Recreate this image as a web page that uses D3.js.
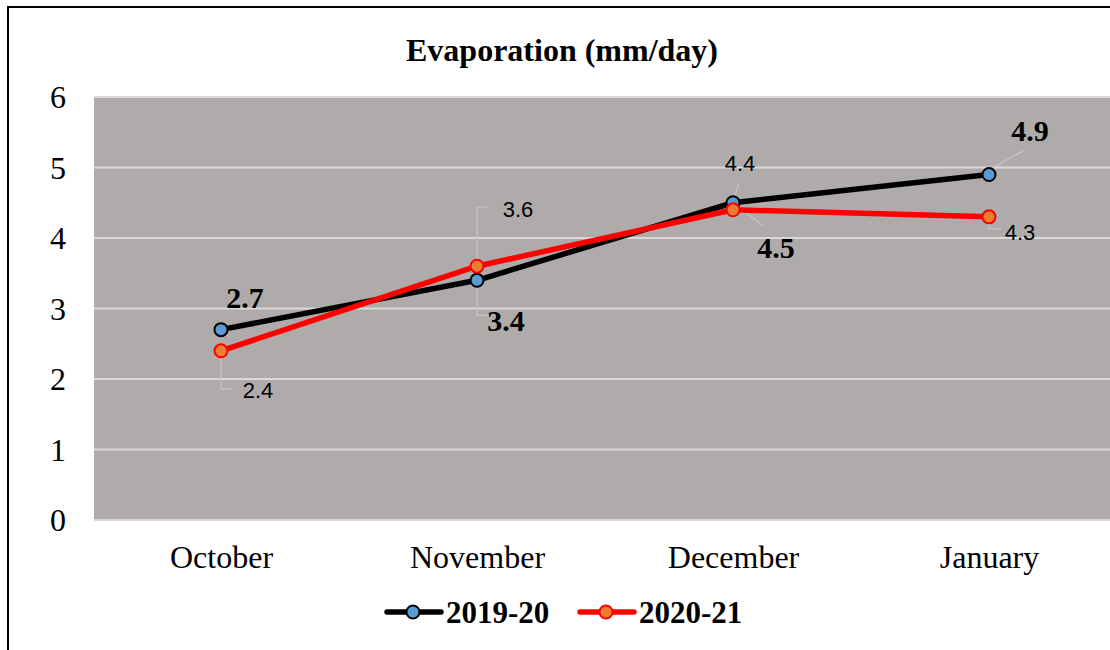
<!DOCTYPE html>
<html>
<head>
<meta charset="utf-8">
<script src="https://cdn.jsdelivr.net/npm/d3@7"></script>
<style>
  body { margin: 0; background: #fff; }
  svg text { fill: #000; }
</style>
</head>
<body>
<div class="chart"></div>
<script>
// Evaporation line chart
var months = ["October", "November", "December", "January"];
var evap1920 = [2.7, 3.4, 4.5, 4.9];
var evap2021 = [2.4, 3.6, 4.4, 4.3];
var yTicks = [0, 1, 2, 3, 4, 5, 6];
var seriesNames = ["2019-20", "2020-21"];

var svgWidth = 1110;
var svgHeight = 650;
var serif = "'Liberation Serif', 'Times New Roman', serif";

var svg = d3.select(".chart")
  .append("svg")
  .attr("width", svgWidth)
  .attr("height", svgHeight);

// outer frame (runs off the right and bottom of the picture)
svg.append("rect")
  .attr("x", 8).attr("y", 7)
  .attr("width", 1200).attr("height", 700)
  .attr("fill", "none")
  .attr("stroke", "#000")
  .attr("stroke-width", 2);

var plot = {left: 94, top: 97, right: 1118, bottom: 520};

var xScale = d3.scalePoint().domain(months).range([plot.left - 1, plot.right - 1]).padding(0.5);
var yScale = d3.scaleLinear().domain([0, 6]).range([plot.bottom, plot.top]);

// plot background
svg.append("rect")
  .attr("x", plot.left).attr("y", plot.top)
  .attr("width", plot.right - plot.left)
  .attr("height", plot.bottom - plot.top)
  .attr("fill", "#AFABAB");

// gridlines
svg.append("g")
  .selectAll("line")
  .data(yTicks)
  .enter()
  .append("line")
  .attr("x1", plot.left).attr("x2", plot.right)
  .attr("y1", function(d) { return yScale(d); })
  .attr("y2", function(d) { return yScale(d); })
  .attr("stroke", "#D9D9D9")
  .attr("stroke-width", 2);

// y axis labels
var leftAxis = d3.axisLeft(yScale).tickValues(yTicks).tickFormat(d3.format("d")).tickSize(0).tickPadding(28);
var yAxisG = svg.append("g")
  .attr("transform", "translate(" + plot.left + ",0)")
  .call(leftAxis);
yAxisG.select(".domain").remove();
yAxisG.selectAll("text")
  .style("font-family", serif)
  .style("font-size", "32px")
  .attr("dy", "0.33em");

// x axis labels
var bottomAxis = d3.axisBottom(xScale).tickSize(0).tickPadding(25);
var xAxisG = svg.append("g")
  .attr("transform", "translate(0," + plot.bottom + ")")
  .call(bottomAxis);
xAxisG.select(".domain").remove();
xAxisG.selectAll("text")
  .style("font-family", serif)
  .style("font-size", "32px");

// title
svg.append("text")
  .attr("x", 562).attr("y", 61)
  .attr("text-anchor", "middle")
  .style("font-family", serif)
  .style("font-weight", "bold")
  .style("font-size", "32px")
  .text("Evaporation (mm/day)");

var line = d3.line()
  .x(function(d, i) { return xScale(months[i]); })
  .y(function(d) { return yScale(d); });

var series = [
  {name: seriesNames[0], values: evap1920, stroke: "#000000", fill: "#5B9BD5"},
  {name: seriesNames[1], values: evap2021, stroke: "#FF0000", fill: "#ED7D31"}
];

// label placement relative to each point, with leader lines
var labelOffsets = [
  // 2019-20: bold serif
  [{dx: 24, dy: -32, lead: null},
   {dx: 29, dy: 40, lead: [[0, 7], [0, 35], [12, 35]]},
   {dx: 43, dy: 45, lead: [[3, 2], [30, 23]]},
   {dx: 41, dy: -44, lead: [[2, -6], [35, -24]]}],
  // 2020-21: regular sans
  [{dx: 37, dy: 39, lead: [[0, 7], [0, 38], [12, 38]]},
   {dx: 41, dy: -57, lead: [[0, -6], [0, -59], [10, -59]]},
   {dx: 7, dy: -47, lead: [[0, -8], [6, -27]]},
   {dx: 31, dy: 15, lead: [[0, 2], [0, 12], [12, 12]]}]
];

series.forEach(function(s, si) {
  var leads = s.values.map(function(d, i) {
    return {px: xScale(months[i]), py: yScale(d), lead: labelOffsets[si][i].lead};
  }).filter(function(o) { return o.lead; });
  svg.append("g")
    .selectAll("polyline")
    .data(leads)
    .enter()
    .append("polyline")
    .attr("points", function(o) {
      return o.lead.map(function(p) { return (o.px + p[0]) + "," + (o.py + p[1]); }).join(" ");
    })
    .attr("fill", "none")
    .attr("stroke", "#C4C4C4")
    .attr("stroke-width", 1.3);
});

series.forEach(function(s) {
  svg.append("path")
    .datum(s.values)
    .attr("d", line)
    .attr("fill", "none")
    .attr("stroke", s.stroke)
    .attr("stroke-width", 5.5)
    .attr("stroke-linejoin", "round");
});

series.forEach(function(s) {
  svg.append("g")
    .selectAll("circle")
    .data(s.values)
    .enter()
    .append("circle")
    .attr("cx", function(d, i) { return xScale(months[i]); })
    .attr("cy", function(d) { return yScale(d); })
    .attr("r", 6.5)
    .attr("fill", s.fill)
    .attr("stroke", s.stroke)
    .attr("stroke-width", 2);
});

series.forEach(function(s, si) {
  svg.append("g")
    .selectAll("text")
    .data(s.values)
    .enter()
    .append("text")
    .attr("x", function(d, i) { return xScale(months[i]) + labelOffsets[si][i].dx; })
    .attr("y", function(d, i) { return yScale(d) + labelOffsets[si][i].dy; })
    .attr("text-anchor", "middle")
    .attr("dy", "0.35em")
    .style("font-family", si === 0 ? serif : "'Liberation Sans', Arial, sans-serif")
    .style("font-weight", si === 0 ? "bold" : "normal")
    .style("font-size", si === 0 ? "30px" : "22px")
    .text(function(d) { return d.toFixed(1); });
});

// legend
var legend = svg.append("g").attr("transform", "translate(0,612)");
var legendX = [387, 580];
series.forEach(function(s, i) {
  var g = legend.append("g").attr("transform", "translate(" + legendX[i] + ",0)");
  g.append("line")
    .attr("x1", 0).attr("x2", 54)
    .attr("y1", 0).attr("y2", 0)
    .attr("stroke", s.stroke)
    .attr("stroke-width", 5.5)
    .attr("stroke-linecap", "round");
  g.append("circle")
    .attr("cx", 26).attr("cy", 0).attr("r", 6.5)
    .attr("fill", s.fill)
    .attr("stroke", s.stroke)
    .attr("stroke-width", 2);
  g.append("text")
    .attr("x", 59).attr("y", 0)
    .attr("dy", "0.35em")
    .style("font-family", serif)
    .style("font-weight", "bold")
    .style("font-size", "31px")
    .text(s.name);
});
</script>
</body>
</html>
